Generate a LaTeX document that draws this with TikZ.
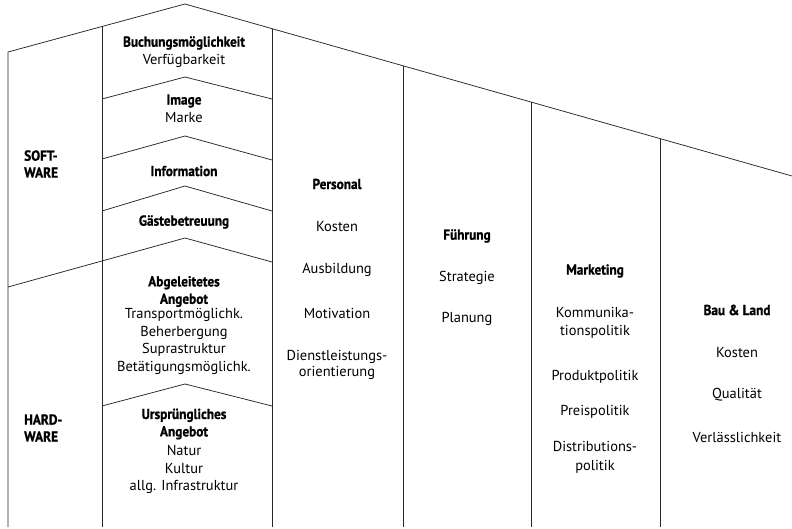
\documentclass[tikz,border=0pt]{standalone}
\usepackage{fontspec}
\setmainfont{PT Sans}[BoldFeatures={FakeStretch=0.92,FakeBold=1}]
\begin{document}
\begin{tikzpicture}[x=1bp,y=-1bp,
  ln/.style={line width=0.75bp, draw=black!85, line join=miter},
  txt/.style={align=center, inner sep=0pt, font=\fontsize{14.5}{17.5}\selectfont},
  hd/.style={align=center, inner sep=0pt, font=\bfseries\fontsize{14.5}{17.5}\selectfont},
  hdl/.style={align=left, inner sep=0pt, font=\bfseries\fontsize{14.5}{17}\selectfont}]
\useasboundingbox (0,0) rectangle (792,529);
% roof and outer line
\coordinate (bl) at (8,527);
\coordinate (rl) at (8,52);
\coordinate (pk) at (185,4);
\coordinate (rr) at (792,176);
\draw[ln] (bl) -- (rl) -- (pk) -- (rr);
% column lines
\coordinate (c1t) at (102,26.5); \coordinate (c1b) at (102,527);
\coordinate (c2t) at (272,28.7); \coordinate (c2b) at (272,527);
\coordinate (c3t) at (403,65.8); \coordinate (c3b) at (403,527);
\coordinate (c4t) at (531,102.1); \coordinate (c4b) at (531,527);
\coordinate (c5t) at (660,138.6); \coordinate (c5b) at (660,527);
\draw[ln] (c1t) -- (c1b);
\draw[ln] (c2t) -- (c2b);
\draw[ln] (c3t) -- (c3b);
\draw[ln] (c4t) -- (c4b);
\draw[ln] (c5t) -- (c5b);
% chevrons
\coordinate (h1l) at (102,99);  \coordinate (h1p) at (185,77);  \coordinate (h1r) at (272,99);
\coordinate (h2l) at (102,159); \coordinate (h2p) at (185,136); \coordinate (h2r) at (272,160);
\coordinate (h3l) at (102,211); \coordinate (h3p) at (185,186); \coordinate (h3r) at (272,211);
\coordinate (h4l) at (8,287);   \coordinate (h4p) at (185,238); \coordinate (h4r) at (272,262);
\coordinate (h5l) at (102,406); \coordinate (h5p) at (185,384); \coordinate (h5r) at (272,406);
\draw[ln] (h1l) -- (h1p) -- (h1r);
\draw[ln] (h2l) -- (h2p) -- (h2r);
\draw[ln] (h3l) -- (h3p) -- (h3r);
\draw[ln] (h4l) -- (h4p) -- (h4r);
\draw[ln] (h5l) -- (h5p) -- (h5r);
% left labels
\node[hdl, anchor=west] (soft) at (24,164) {SOFT-\\WARE};
\node[hdl, anchor=west] (hard) at (24,428) {HARD-\\WARE};
% column 1
\node[hd] (buch) at (184,43) {Buchungsmöglichkeit};
\node[txt] (verf) at (184,61) {Verfügbarkeit};
\node[hd] (img) at (184,101) {Image};
\node[txt] (mark) at (184,118) {Marke};
\node[hd] (info) at (184,171) {Information};
\node[hd] (gast) at (184,222) {Gästebetreuung};
\node[hd] (abg) at (184,291.5) {Abgeleitetes\\Angebot};
\node[txt] (abgl) at (184,341.5) {Transportmöglichk.\\Beherbergung\\Suprastruktur\\Betätigungsmöglichk.};
\node[hd] (urs) at (184,424) {Ursprüngliches\\Angebot};
\node[txt] (ursl) at (184,469.5) {Natur\\Kultur\\allg. Infrastruktur};
% column 2
\node[hd] (pers) at (337,184) {Personal};
\node[txt] (p1) at (337,227) {Kosten};
\node[txt] (p2) at (337,270) {Ausbildung};
\node[txt] (p3) at (337,313) {Motivation};
\node[txt, font=\fontsize{14.5}{16.5}\selectfont] (p4) at (337,365) {Dienstleistungs-\\orientierung};
% column 3
\node[hd] (fuhr) at (467,236) {Führung};
\node[txt] (f1) at (467,278) {Strategie};
\node[txt] (f2) at (467,319) {Planung};
% column 4
\node[hd] (mkt) at (595,271) {Marketing};
\node[txt] (m1) at (595,323) {Kommunika-\\tionspolitik};
\node[txt] (m2) at (595,377) {Produktpolitik};
\node[txt] (m3) at (595,412) {Preispolitik};
\node[txt, font=\fontsize{14.5}{18.5}\selectfont] (m4) at (595,457.5) {Distributions-\\politik};
% column 5
\node[hd] (bau) at (737,310) {Bau \& Land};
\node[txt] (b1) at (737,353) {Kosten};
\node[txt] (b2) at (737,395) {Qualität};
\node[txt] (b3) at (737,437) {Verlässlichkeit};
\end{tikzpicture}
\end{document}
